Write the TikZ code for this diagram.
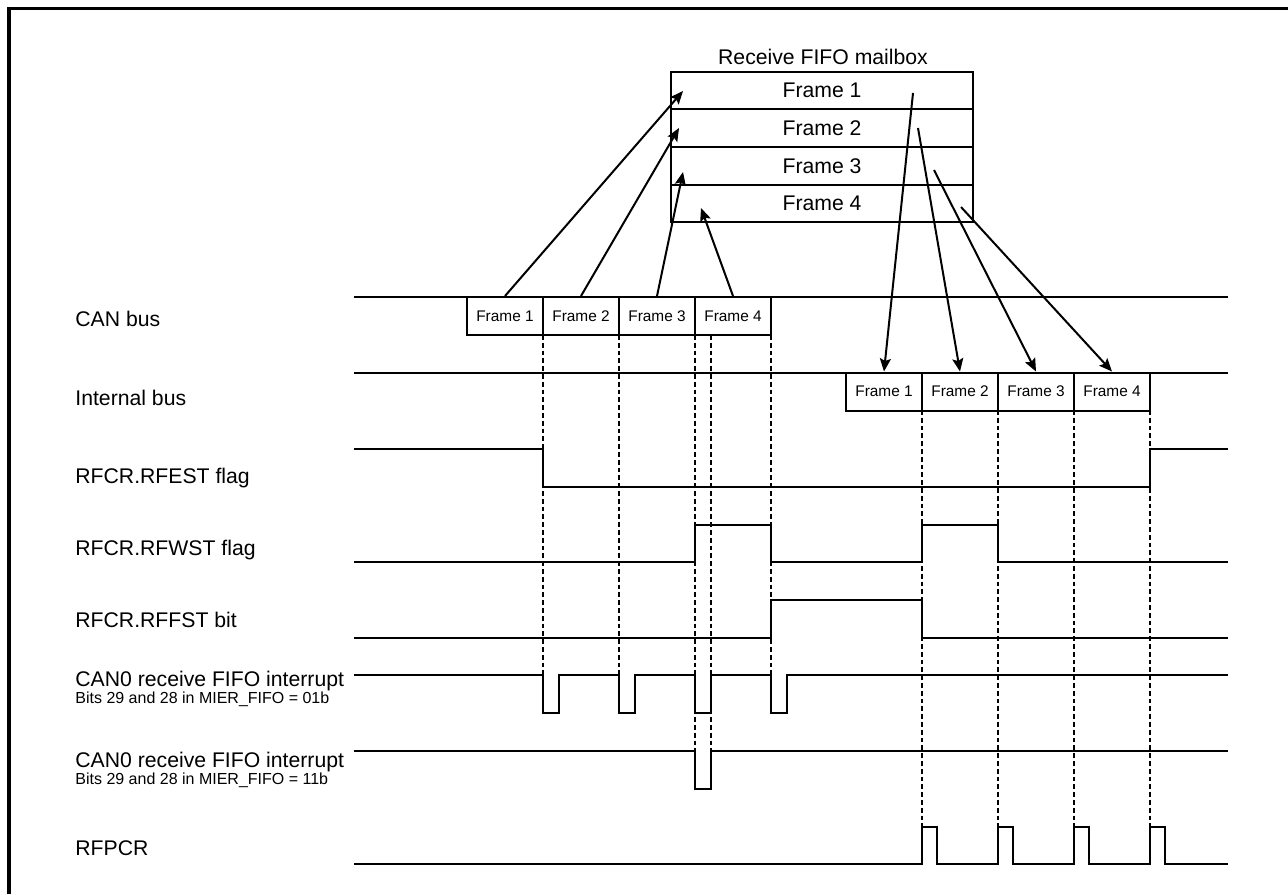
\documentclass[tikz,border=0pt]{standalone}
\usepackage{fontspec}
\setmainfont{Liberation Sans}
\usetikzlibrary{arrows.meta,calc}

\begin{document}
\begin{tikzpicture}[
    x=0.5pt, y=-0.5pt,
    sig/.style={line width=1pt, line join=miter},
    guide/.style={line width=0.6pt, dash pattern=on 2.4pt off 1.5pt},
    busbox/.style={draw, line width=1pt, minimum width=38pt, minimum height=19pt, inner sep=0pt, font=\fontsize{7.7}{9}\selectfont},
    slot/.style={draw, line width=1pt, minimum width=151pt, minimum height=18.75pt, inner sep=0pt, font=\fontsize{10.6}{12}\selectfont},
    lab/.style={anchor=base west, inner sep=0pt, font=\fontsize{10.6}{12}\selectfont},
    sublab/.style={anchor=base west, inner sep=0pt, font=\fontsize{8}{9}\selectfont},
    flow/.style={-{Stealth[length=6.5pt, width=5.5pt, inset=1.2pt]}, line width=1pt},
]
    \useasboundingbox (0,0) rectangle (1288,894);
    \draw[line width=1.6pt] (9,894) -- (9,8.5) -- (1288,8.5);

    % mailbox
    \node[font=\fontsize{10.6}{12}\selectfont] (mbtitle) at (823,57) {Receive FIFO mailbox};
    \foreach \i/\y in {1/90.5, 2/128, 3/166, 4/203.5} {
        \node[slot] (mb\i) at (822,\y) {Frame \i};
    }

    % buses
    \draw[sig] (354,297) -- (1228,297);
    \draw[sig] (354,373) -- (1228,373);
    \foreach \i/\x in {1/505, 2/581, 3/657, 4/733} {
        \node[busbox] (cf\i) at (\x,316) {Frame \i};
    }
    \foreach \i/\x in {1/884, 2/960, 3/1036, 4/1112} {
        \node[busbox] (if\i) at (\x,391.5) {Frame \i};
    }

    \coordinate (in1) at (683,91);
    \coordinate (in2) at (679,128);
    \coordinate (in3) at (683,172);
    \coordinate (in4) at (701,208);
    \coordinate (out1) at (913,93);
    \coordinate (out2) at (918,128);
    \coordinate (out3) at (934,170);
    \coordinate (out4) at (961,207);
    \foreach \i in {1,...,4} {
        \draw[flow] (cf\i.north) -- (in\i);
        \draw[flow] (out\i) -- (if\i.north);
    }

    % guides
    \foreach \x/\y in {543/713, 619/713, 695/789, 711/789, 771/713} {
        \draw[guide] (\x,335) -- (\x,\y);
    }
    \foreach \x in {922, 998, 1074, 1150} {
        \draw[guide] (\x,410) -- (\x,827);
    }

    % signals
    \draw[sig] (354,449) -- (543,449) -- (543,487) -- (1150,487) -- (1150,449) -- (1228,449);
    \draw[sig] (354,562) -- (695,562) -- (695,525) -- (771,525) -- (771,562) -- (922,562)
        -- (922,525) -- (998,525) -- (998,562) -- (1228,562);
    \draw[sig] (354,638) -- (771,638) -- (771,600) -- (922,600) -- (922,638) -- (1228,638);
    \draw[sig] (354,675) foreach \x in {543, 619, 695, 771} {
        -- (\x,675) -- (\x,713) -- ({\x+16},713) -- ({\x+16},675) } -- (1228,675);
    \draw[sig] (354,751) -- (695,751) -- (695,789) -- (711,789) -- (711,751) -- (1228,751);
    \draw[sig] (354,864) foreach \x in {922, 998, 1074, 1150} {
        -- (\x,864) -- (\x,827) -- ({\x+15},827) -- ({\x+15},864) } -- (1228,864);

    % labels
    \node[lab] (lcan) at (75,326) {CAN bus};
    \node[lab] (lint) at (75,405) {Internal bus};
    \node[lab] (lest) at (75,483) {RFCR.RFEST flag};
    \node[lab] (lwst) at (75,555) {RFCR.RFWST flag};
    \node[lab] (lfst) at (75,627) {RFCR.RFFST bit};
    \node[lab] (lirqa) at (75,686) {CAN0 receive FIFO interrupt};
    \node[sublab] (lirqas) at (75,703) {Bits 29 and 28 in MIER\_FIFO = 01b};
    \node[lab] (lirqb) at (75,767) {CAN0 receive FIFO interrupt};
    \node[sublab] (lirqbs) at (75,784) {Bits 29 and 28 in MIER\_FIFO = 11b};
    \node[lab] (lpcr) at (75,855) {RFPCR};
\end{tikzpicture}
\end{document}
